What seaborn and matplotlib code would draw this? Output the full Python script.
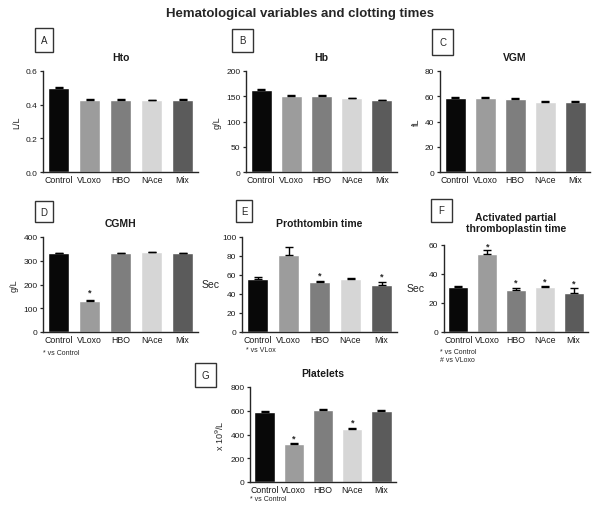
import numpy as np
import matplotlib.pyplot as plt
import seaborn as sns

sns.set_style('ticks')
plt.rcParams['font.family'] = ['Liberation Sans', 'DejaVu Sans']

groups = ['Control', 'VLoxo', 'HBO', 'NAce', 'Mix']
colors = ['#080808', '#9c9c9c', '#7e7e7e', '#d6d6d6', '#5b5b5b']

hto = [0.50, 0.43, 0.43, 0.425, 0.43]
hto_err = [0.004, 0.004, 0.004, 0.003, 0.004]
hb = [162, 150, 151, 146, 142]
hb_err = [1.5, 1.5, 2, 1.5, 1.5]
vgm = [58.5, 58.5, 58, 55.5, 55.5]
vgm_err = [0.6, 0.8, 0.6, 0.6, 0.5]
cgmh = [333, 132, 332, 335, 332]
cgmh_err = [1, 3, 2, 2, 2]
pt = [56, 81, 53, 56, 49]
pt_err = [2, 9, 1, 1, 4]
aptt = [31, 54, 29, 31, 27]
aptt_err = [0.4, 2.5, 1.5, 0.4, 3.5]
plt_vals = [590, 320, 610, 450, 600]
plt_err = [4, 6, 5, 6, 4]

W, H = 592, 506
fig = plt.figure(figsize=(W / 100, H / 100), dpi=100)


def px_axes(x0, y0, x1, y1):
    # pixel box (left, top, right, bottom) -> figure fraction
    return fig.add_axes([x0 / W, 1 - y1 / H, (x1 - x0) / W, (y1 - y0) / H])


def panel(box, vals, errs, ymax, step, title, ylabel, letter, letter_box,
          stars=None, ylab_rot=True, ylab_x=None, fmt=None, title_y=None):
    ax = px_axes(*box)
    sns.barplot(x=groups, y=vals, hue=groups, palette=colors, legend=False,
                width=0.7, ax=ax, saturation=1)
    zeros = np.zeros(len(vals))
    ax.errorbar(range(len(vals)), vals, yerr=[zeros, errs], fmt='none',
                ecolor='black', elinewidth=1, capsize=3, capthick=1)
    ax.set_ylim(0, ymax)
    ax.set_xlim(-0.5, 4.5)
    ticks = np.arange(0, ymax + step / 2, step)
    ax.set_yticks(ticks)
    if fmt:
        ax.set_yticklabels([fmt.format(t) for t in ticks])
    ax.tick_params(axis='y', labelsize=6, length=2.5, width=0.9, pad=1.5)
    ax.tick_params(axis='x', labelsize=6.3, length=0, pad=2.5)
    for lab in ax.get_xticklabels() + ax.get_yticklabels():
        lab.set_color('#1a1a1a')
    sns.despine(ax=ax)
    for s in ['left', 'bottom']:
        ax.spines[s].set_linewidth(1)
    ax.set_xlabel('')
    if ylab_rot:
        ax.set_ylabel(ylabel, fontsize=6.5, labelpad=3)
    else:
        ax.set_ylabel('')
        fig.text(ylab_x / W, 1 - (box[1] + box[3]) / 2 / H, ylabel,
                 fontsize=7.5, ha='center', va='center')
    ax.set_title(title, fontsize=7.5, fontweight='bold', pad=title_y or 8,
                 color='#1a1a1a')
    if stars:
        for i, (s, off) in stars.items():
            ax.text(i, vals[i] + errs[i] + off, s, ha='center', va='center',
                    fontsize=6.5, fontweight='bold')
    # letter box
    lx0, ly0, lx1, ly1 = letter_box
    fig.patches.append(plt.Rectangle((lx0 / W, 1 - ly1 / H), (lx1 - lx0) / W,
                                     (ly1 - ly0) / H, transform=fig.transFigure,
                                     fill=False, edgecolor='#333333', lw=1))
    fig.text((lx0 + lx1) / 2 / W, 1 - (ly0 + ly1) / 2 / H, letter,
             fontsize=7, ha='center', va='center')
    return ax


fig.text(300 / W, 1 - 14 / H, 'Hematological variables and clotting times',
         fontsize=9.5, fontweight='bold', ha='center', va='center')

panel((43, 72, 198, 173), hto, hto_err, 0.6, 0.2, 'Hto', 'L/L', 'A',
      (35, 29, 53, 53), fmt='{:.1f}')
panel((246, 72, 397, 173), hb, hb_err, 200, 50, 'Hb', 'g/L', 'B',
      (232, 30, 253, 53))
panel((440, 72, 590, 173), vgm, vgm_err, 80, 20, 'VGM', 'fL', 'C',
      (432, 30, 453, 56))
panel((43, 238, 198, 333), cgmh, cgmh_err, 400, 100, 'CGMH', 'g/L', 'D',
      (35, 202, 53, 223), stars={1: ('*', 35)})
panel((242, 238, 397, 333), pt, pt_err, 100, 20, 'Prothtombin time', 'Sec',
      'E', (236, 201, 252, 223), stars={2: ('*', 6), 4: ('*', 6)},
      ylab_rot=False, ylab_x=211)
panel((444, 246, 588, 333), aptt, aptt_err, 60, 20,
      'Activated partial\nthromboplastin time', 'Sec', 'F',
      (431, 200, 452, 223),
      stars={1: ('*', 3), 2: ('*', 4), 3: ('*', 4), 4: ('*', 3.5)},
      ylab_rot=False, ylab_x=416, title_y=10)
panel((250, 388, 396, 483), plt_vals, plt_err, 800, 200, 'Platelets',
      'x 10$^9$/L', 'G', (195, 364, 216, 388),
      stars={1: ('*', 45), 3: ('*', 45)})

fig.text(43 / W, 1 - 354 / H, '* vs Control', fontsize=5, va='center')
fig.text(246 / W, 1 - 351 / H, '* vs VLox', fontsize=5, va='center')
fig.text(440 / W, 1 - 353 / H, '* vs Control', fontsize=5, va='center')
fig.text(440 / W, 1 - 361 / H, '# vs VLoxo', fontsize=5, va='center')
fig.text(250 / W, 1 - 500 / H, '* vs Control', fontsize=5, va='center')

fig.savefig('out.png', dpi=100, facecolor='white')
